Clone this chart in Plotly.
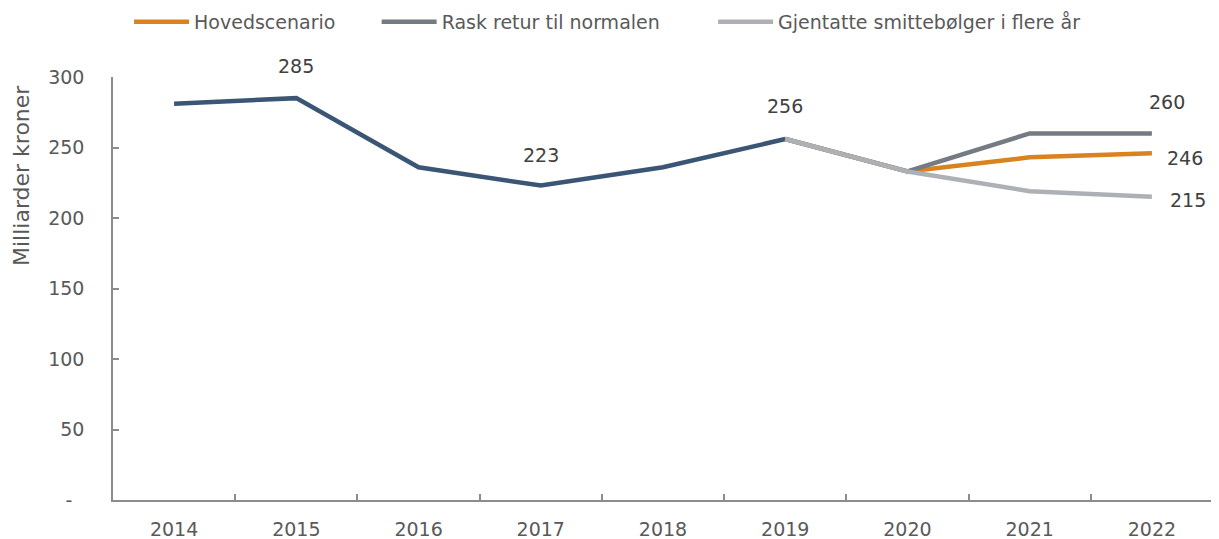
import plotly.graph_objects as go

years = ["2014", "2015", "2016", "2017", "2018", "2019", "2020", "2021", "2022"]
historikk = [281, 285, 236, 223, 236, 256, None, None, None]
hoved = [None, None, None, None, None, 256, 233, 243, 246]
rask = [None, None, None, None, None, 256, 233, 260, 260]
gjentatte = [None, None, None, None, None, 256, 233, 219, 215]

y_tickvals = [0, 50, 100, 150, 200, 250, 300]
y_ticktext = ["-\u00a0\u00a0", "50", "100", "150", "200", "250", "300"]

FONT = "DejaVu Sans"
TXT = "#404040"
AX = "#8c8c8c"

fig = go.Figure()
fig.add_trace(go.Scatter(x=years, y=historikk, mode="lines", showlegend=False,
                         line=dict(color="#3B5575", width=4.5), name="Historikk"))
fig.add_trace(go.Scatter(x=years, y=hoved, mode="lines", name="Hovedscenario" + "\u00a0" * 6,
                         line=dict(color="#D9821E", width=4.5)))
fig.add_trace(go.Scatter(x=years, y=rask, mode="lines", name="Rask retur til normalen" + "\u00a0" * 8,
                         line=dict(color="#757B82", width=4.5)))
fig.add_trace(go.Scatter(x=years, y=gjentatte, mode="lines", name="Gjentatte smittebølger i flere år",
                         line=dict(color="#ADB1B5", width=4.5)))

# data labels: (year, value, xshift, yshift)
labels = [
    ("2015", historikk[1], 0, 32),
    ("2017", historikk[3], 0, 31),
    ("2019", historikk[5], 0, 33),
    ("2022", rask[8], 15, 31),
    ("2022", hoved[8], 33, -5),
    ("2022", gjentatte[8], 36, -3),
]
for x, y, dx, dy in labels:
    fig.add_annotation(x=years.index(x), y=y, xref="x", yref="y", text=str(y), showarrow=False,
                       xshift=dx, yshift=dy,
                       font=dict(family=FONT, size=19, color=TXT))

# y-axis title (placed high, as in the reference)
fig.add_annotation(x=-0.0827, y=0.766, xref="paper", yref="paper", text="Milliarder kroner",
                   textangle=-90, showarrow=False, xanchor="center", yanchor="middle",
                   font=dict(family=FONT, size=22, color="#595959"))

# the page body has an 8px margin, so the figure is offset by 8px
fig.update_layout(
    width=1211, height=531,
    margin=dict(l=105, r=6, t=69, b=39, autoexpand=False),
    plot_bgcolor="white", paper_bgcolor="white",
    font=dict(family=FONT, size=19, color="#595959"),
    showlegend=True,
    legend=dict(orientation="h", x=0.0146, y=1.13, xanchor="left", yanchor="middle",
                font=dict(family=FONT, size=19, color="#595959"),
                itemwidth=55,
                bgcolor="rgba(0,0,0,0)"),
    xaxis=dict(type="category", range=[-0.5, 8.5], showline=True, linecolor=AX, linewidth=1.5,
               ticks="inside", ticklen=6, tickcolor=AX, tickwidth=1.5, tickson="boundaries",
               showgrid=False, zeroline=False, ticklabelstandoff=11, automargin=False,
               tickfont=dict(family=FONT, size=19, color="#595959")),
    yaxis=dict(range=[0, 300], tickvals=y_tickvals, ticktext=y_ticktext, showline=True,
               linecolor=AX, linewidth=1.5, ticks="inside", ticklen=6, tickcolor=AX, tickwidth=1.5,
               showgrid=False, zeroline=False, ticklabelstandoff=23, automargin=False,
               tickfont=dict(family=FONT, size=19, color="#595959")),
)

fig.write_html("out.html")
